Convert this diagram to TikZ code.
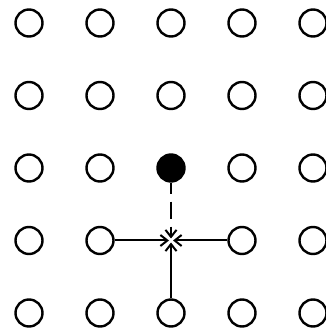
\documentclass[tikz,border=0pt]{standalone}
\usetikzlibrary{arrows.meta}
\begin{document}
\begin{tikzpicture}[x=1pt,y=1pt,
  site/.style={circle,draw=black,line width=2.4pt,minimum size=27pt,inner sep=0pt},
  filled/.style={site,fill=black},
  link/.style={line width=2pt,-{Straight Barb[length=7pt,width=11pt,line width=2pt]},shorten >=2pt}]
\useasboundingbox (0,0) rectangle (325,333);
\foreach \i in {0,...,4}{
  \foreach \j in {0,...,4}{
    \pgfmathsetmacro{\xx}{29+71*\i}
    \pgfmathsetmacro{\yy}{333-23-72.5*\j}
    \ifnum\i=2
      \ifnum\j=2
        \node[filled] (c-\i-\j) at (\xx,\yy) {};
      \else\ifnum\j=3
        \coordinate (c-\i-\j) at (\xx,\yy);
      \else
        \node[site] (c-\i-\j) at (\xx,\yy) {};
      \fi\fi
    \else
      \node[site] (c-\i-\j) at (\xx,\yy) {};
    \fi
  }
}
\draw[link] (c-1-3) -- (c-2-3);
\draw[link] (c-3-3) -- (c-2-3);
\draw[link] (c-2-4) -- (c-2-3);
\draw[link,dash pattern=on 11pt off 8pt on 17pt off 8pt] (c-2-2) -- (c-2-3);
\end{tikzpicture}
\end{document}
